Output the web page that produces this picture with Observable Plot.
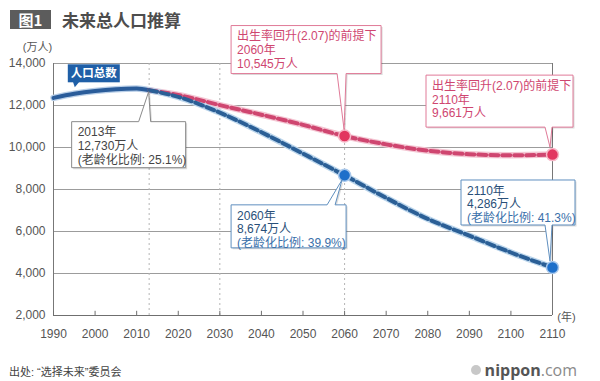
<!DOCTYPE html>
<html><head><meta charset="utf-8">
<script src="https://cdn.jsdelivr.net/npm/d3@7"></script>
<script src="https://cdn.jsdelivr.net/npm/@observablehq/plot@0.6"></script>
<style>
body{margin:0;background:#fff;width:600px;height:381px;overflow:hidden;position:relative;font-family:"Noto Sans CJK SC","Noto Sans",sans-serif;}
#chart{position:absolute;left:0;top:0;}
#badge{position:absolute;left:10px;top:10px;width:41px;height:19px;background:#5c5c5c;color:#fff;font-weight:bold;font-size:15px;line-height:19px;text-align:center;z-index:2;}
#ttext{position:absolute;left:62px;top:8px;font-size:17px;font-weight:bold;color:#4d4d4d;line-height:24px;z-index:2;}
#src{position:absolute;left:9px;top:363px;font-family:"Liberation Sans","Noto Sans CJK SC",sans-serif;font-size:11px;color:#444;line-height:18px;z-index:2;}
#logo{position:absolute;right:23px;top:358px;font-family:"Open Sans","DejaVu Sans",sans-serif;font-size:16px;line-height:24px;z-index:2;}
#logo .dot{display:inline-block;width:10px;height:10px;border-radius:50%;background:#c8c8c8;margin-right:4px;vertical-align:1px;}
#logo b{color:#555;}
#logo span.c{color:#8a8a8a;}
</style></head>
<body>
<div id="chart"></div>
<div id="badge">图1</div><div id="ttext">未来总人口推算</div>
<div id="src">出处: “选择未来”委员会</div><div id="logo"><span class="dot"></span><b>nippon</b><span class="c">.com</span></div>
<script>
// ---- data ----
const histYears = [1990, 1995, 2000, 2005, 2010, 2013];
const histPop = [12361, 12557, 12693, 12777, 12806, 12730];
const projYears = [2013, 2020, 2030, 2040, 2050, 2060, 2070, 2080, 2090, 2100, 2110];
const basePop = [12730, 12410, 11662, 10728, 9708, 8674, 7600, 6600, 5800, 5000, 4286];
const recovPop = [12730, 12500, 12020, 11560, 11080, 10545, 10150, 9850, 9680, 9630, 9661];
const xTicks = [1990, 2000, 2010, 2020, 2030, 2040, 2050, 2060, 2070, 2080, 2090, 2100, 2110];
const yTicks = [2000, 4000, 6000, 8000, 10000, 12000, 14000];
const markerYears = [2013, 2030, 2060];
const baseDots = [{year: 2060, pop: 8674}, {year: 2110, pop: 4286}];
const recovDots = [{year: 2060, pop: 10545}, {year: 2110, pop: 9661}];

const hist = histYears.map((y, i) => ({year: y, pop: histPop[i]}));
const base = projYears.map((y, i) => ({year: y, pop: basePop[i]}));
const recov = projYears.map((y, i) => ({year: y, pop: recovPop[i]}));

const PINK = "#cf4670", BLUE = "#2b5f96";
const FONT = "'Liberation Sans','Noto Sans CJK SC',sans-serif";

// callout specs: anchor point + pixel layout
const callouts = [
  {year: 2013, value: 12730, side: "top", box: [-77, 37, 32, 78], base: [-10, 2], tip: [0, 2],
   stroke: "#8a8a8a", lines: [["2013年", "#444"], ["12,730万人", "#444"], ["(老龄化比例: 25.1%)", "#444"]]},
  {year: 2060, value: 10545, side: "bottom", box: [-113, 37, -110, -62], base: [-7, 2], tip: [0, -6],
   stroke: "#e07a98", lines: [["出生率回升(2.07)的前提下", PINK], ["2060年", PINK], ["10,545万人", PINK]]},
  {year: 2110, value: 9661, side: "bottom", box: [-126, 21, -79, -27], base: [-7, 0], tip: [-2, -7],
   stroke: "#e07a98", lines: [["出生率回升(2.07)的前提下", PINK], ["2110年", PINK], ["9,661万人", PINK]]},
  {year: 2060, value: 8674, side: "top", box: [-113, 2, 30, 73], base: [-17, -9], tip: [-2, 5],
   stroke: "#5f8fbf", lines: [["2060年", "#294f78"], ["8,674万人", "#294f78"], ["(老龄化比例: 39.9%)", "#3a70aa"]]},
  {year: 2110, value: 4286, side: "bottom", box: [-91, 23, -87, -42], base: [-7, 0], tip: [-2, -6],
   stroke: "#5f8fbf", lines: [["2110年", "#294f78"], ["4,286万人", "#294f78"], ["(老龄化比例: 41.3%)", "#3a70aa"]]}
];

function calloutMark(spec) {
  return (index, scales) => {
    const px = scales.x(spec.year), py = scales.y(spec.value);
    const L = px + spec.box[0], R = px + spec.box[1], T = py + spec.box[2], B = py + spec.box[3];
    const b1 = px + spec.base[0], b2 = px + spec.base[1];
    const tx = px + spec.tip[0], ty = py + spec.tip[1];
    const d = spec.side === "top"
      ? `M${L},${T}H${b1}L${tx},${ty}L${b2},${T}H${R}V${B}H${L}Z`
      : `M${L},${T}H${R}V${B}H${b2}L${tx},${ty}L${b1},${B}H${L}Z`;
    const g = d3.create("svg:g");
    g.append("path").attr("d", d).attr("transform", "translate(1.5,1.5)").attr("fill", "#000").attr("opacity", 0.14);
    g.append("path").attr("d", d).attr("fill", "#fff").attr("stroke", spec.stroke).attr("stroke-width", 1);
    spec.lines.forEach(([t, c], i) => {
      g.append("text").attr("x", L + 6).attr("y", T + 10.5 + i * 13.8).attr("dy", "0.35em")
        .attr("text-anchor", "start").attr("font-family", FONT).attr("fill", c).attr("font-size", 12).text(t);
    });
    return g.node();
  };
}

function lineLabel(index, scales) {
  const px = scales.x(1995), py = scales.y(12557);
  const g = d3.create("svg:g");
  g.append("rect").attr("x", px - 6).attr("y", py - 29).attr("width", 52).attr("height", 18).attr("fill", "#1f5fa7");
  g.append("path").attr("d", `M${px - 1},${py - 12}L${px + 1},${py - 6}L${px + 6},${py - 12}Z`).attr("fill", "#1f5fa7");
  g.append("text").attr("x", px + 20).attr("y", py - 20).attr("dy", "0.35em").attr("text-anchor", "middle")
    .attr("font-family", FONT).attr("fill", "#fff").attr("font-weight", "bold").attr("font-size", 11.5).text("人口总数");
  return g.node();
}

const fmtComma = d3.format(",");
const plot = Plot.plot({
  width: 600, height: 381,
  marginLeft: 53, marginRight: 48, marginTop: 63, marginBottom: 66,
  style: {fontFamily: FONT, fontSize: "12px", color: "#555", background: "transparent", overflow: "visible"},
  x: {domain: [1990, 2110], label: null},
  y: {domain: [2000, 14000], label: null},
  marks: [
    Plot.ruleY(yTicks.slice(1), {stroke: "#9c9c9c", strokeWidth: 1}),
    Plot.ruleX(markerYears, {y1: 2000, y2: 14000, stroke: "#b5b5b5", strokeDasharray: "2,3", strokeWidth: 1}),
    Plot.ruleX([2110], {y1: 2000, y2: 14000, stroke: "#777"}),
    Plot.ruleX([1990], {y1: 2000, y2: 14000, stroke: "#777"}),
    Plot.ruleY([2000], {stroke: "#6f6f6f", strokeWidth: 1.2}),
    Plot.ruleX(xTicks, {y1: 2000, y2: 2200, stroke: "#6f6f6f"}),
    Plot.axisX({ticks: xTicks, tickSize: 0, tickPadding: 14, tickFormat: d => String(d), fontSize: 12, fill: "#555"}),
    Plot.axisY({ticks: yTicks, tickSize: 0, tickPadding: 8, tickFormat: d => fmtComma(d), fontSize: 12, fill: "#555"}),
    Plot.text(["(万人)"], {frameAnchor: "top-left", dx: -16, dy: -20, fontSize: 11, fill: "#555", textAnchor: "middle"}),
    Plot.text(["(年)"], {frameAnchor: "bottom-right", dx: 14, dy: 5, fontSize: 11, fill: "#555", textAnchor: "middle"}),
    // halos
    Plot.line(hist, {x: "year", y: "pop", stroke: "#b9cfe8", strokeWidth: 6.5, curve: "monotone-x"}),
    Plot.line(recov, {x: "year", y: "pop", stroke: "#f4c6d3", strokeWidth: 6.5, curve: "monotone-x"}),
    Plot.line(base, {x: "year", y: "pop", stroke: "#bcd6ec", strokeWidth: 6.5, curve: "monotone-x"}),
    // main lines
    Plot.line(hist, {x: "year", y: "pop", stroke: "#2a5c9a", strokeWidth: 4, curve: "monotone-x"}),
    Plot.line(recov, {x: "year", y: "pop", stroke: PINK, strokeWidth: 4, strokeDasharray: "8,4", curve: "monotone-x"}),
    Plot.line(base, {x: "year", y: "pop", stroke: BLUE, strokeWidth: 4, strokeDasharray: "8,4", curve: "monotone-x"}),
    Plot.dot(recovDots, {x: "year", y: "pop", r: 6, fill: "#e2355f", stroke: "#f7b8c8", strokeWidth: 1.5}),
    Plot.dot(baseDots, {x: "year", y: "pop", r: 6, fill: "#1d6fca", stroke: "#a8c8ec", strokeWidth: 1.5}),
    lineLabel,
    ...callouts.map(calloutMark)
  ]
});
document.getElementById("chart").appendChild(plot);
</script>
</body></html>
